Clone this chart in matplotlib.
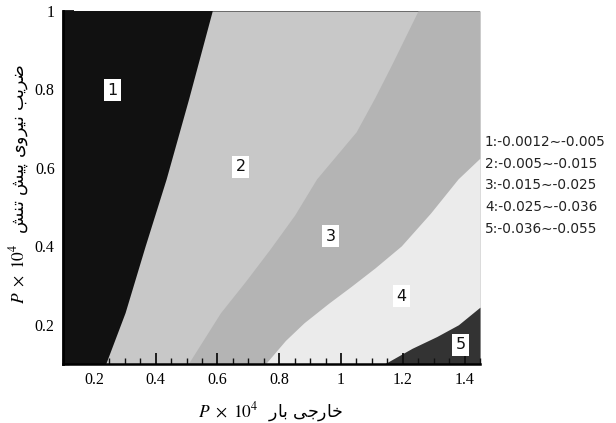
import matplotlib
matplotlib.use("Agg")
import matplotlib.pyplot as plt
from matplotlib.ticker import MultipleLocator, FuncFormatter

plt.rcParams['mathtext.fontset'] = 'stix'

# boundaries between the zones
b12_y = [0.1, 0.231, 0.401, 0.572, 0.777, 1.0]
b12_x = [0.238, 0.301, 0.366, 0.434, 0.507, 0.583]

b23_y = [0.1, 0.231, 0.31, 0.395, 0.48, 0.572, 0.692, 0.78, 0.862, 1.0]
b23_x = [0.505, 0.61, 0.69, 0.772, 0.85, 0.921, 1.049, 1.11, 1.163, 1.249]

b34_x = [0.755, 0.82, 0.88, 0.96, 1.033, 1.11, 1.195, 1.29, 1.379, 1.45]
b34_y = [0.1, 0.16, 0.205, 0.255, 0.298, 0.345, 0.401, 0.485, 0.572, 0.625]

b45_x = [1.14, 1.23, 1.31, 1.38, 1.45]
b45_y = [0.1, 0.14, 0.17, 0.2, 0.245]

zone_names = ['1', '2', '3', '4', '5']
zone_x = [0.261, 0.675, 0.967, 1.195, 1.388]
zone_y = [0.798, 0.603, 0.426, 0.273, 0.149]
zone_ranges = ['1:-0.0012\u223c-0.005', '2:-0.005\u223c-0.015', '3:-0.015\u223c-0.025',
               '4:-0.025\u223c-0.036', '5:-0.036\u223c-0.055']

colors = ['#111111', '#c8c8c8', '#b4b4b4', '#ebebeb', '#333333']

xlabel_fa = 'بار خارجی'
ylabel_fa = 'ضریب نیروی پیش تنش'

# matplotlib has no arabic shaping, so do it by hand for the letters we need
# (isolated, final, initial, medial)
forms = {
    'ا': ('\uFE8D', '\uFE8E', None, None),
    'ب': ('\uFE8F', '\uFE90', '\uFE91', '\uFE92'),
    'پ': ('\uFB56', '\uFB57', '\uFB58', '\uFB59'),
    'ت': ('\uFE95', '\uFE96', '\uFE97', '\uFE98'),
    'ج': ('\uFE9D', '\uFE9E', '\uFE9F', '\uFEA0'),
    'خ': ('\uFEA5', '\uFEA6', '\uFEA7', '\uFEA8'),
    'ر': ('\uFEAD', '\uFEAE', None, None),
    'ش': ('\uFEB5', '\uFEB6', '\uFEB7', '\uFEB8'),
    'ض': ('\uFEBD', '\uFEBE', '\uFEBF', '\uFEC0'),
    'ن': ('\uFEE5', '\uFEE6', '\uFEE7', '\uFEE8'),
    'و': ('\uFEED', '\uFEEE', None, None),
    'ی': ('\uFBFC', '\uFBFD', '\uFBFE', '\uFBFF'),
}


def shape_word(w):
    out = ''
    for i, ch in enumerate(w):
        f = forms[ch]
        prev_joins = i > 0 and forms[w[i-1]][2] is not None
        next_joins = i < len(w)-1 and f[2] is not None
        if prev_joins and next_joins:
            out += f[3]
        elif next_joins:
            out += f[2]
        elif prev_joins:
            out += f[1]
        else:
            out += f[0]
    return out[::-1]


fig = plt.figure(figsize=(6.16, 4.23), dpi=100)
ax = fig.add_axes([63/616, 1-364/423, 417/616, 353/423])
ax.set_xlim(0.1, 1.45)
ax.set_ylim(0.1, 1.0)
ax.set_facecolor(colors[0])

ax.fill_betweenx(b12_y, b12_x, 1.45, color=colors[1], lw=0)
ax.fill_betweenx(b23_y, b23_x, 1.45, color=colors[2], lw=0)
ax.fill_between(b34_x, 0.1, b34_y, color=colors[3], lw=0)
ax.fill_between(b45_x, 0.1, b45_y, color=colors[4], lw=0)

for n, x, y in zip(zone_names, zone_x, zone_y):
    ax.text(x, y, n, ha='center', va='center', fontsize=11.5,
            family='DejaVu Sans', color='#111111',
            bbox=dict(fc='white', ec='none', pad=2.5))

ax.xaxis.set_major_locator(MultipleLocator(0.2))
ax.xaxis.set_minor_locator(MultipleLocator(0.05))
ax.yaxis.set_major_locator(MultipleLocator(0.2))
ax.yaxis.set_minor_locator(MultipleLocator(0.05))
fmt = FuncFormatter(lambda v, p: '{:g}'.format(round(v, 2)))
ax.xaxis.set_major_formatter(fmt)
ax.yaxis.set_major_formatter(fmt)
ax.tick_params(which='both', direction='in', top=False, right=False,
               color='#111111')
ax.tick_params(which='major', length=8, width=1.3, labelsize=11.5, pad=6)
ax.tick_params(which='minor', length=4, width=1)
for lab in ax.get_xticklabels() + ax.get_yticklabels():
    lab.set_family('Liberation Serif')

ax.spines['top'].set_visible(False)
ax.spines['right'].set_visible(False)
ax.spines['left'].set_linewidth(2)
ax.spines['bottom'].set_linewidth(1.8)

xl = r'$P\ \times\ 10^4$  ' + ' '.join(shape_word(w) for w in xlabel_fa.split())
yl = r'$P\ \times\ 10^4$  ' + ' '.join(shape_word(w) for w in ylabel_fa.split()[::-1])
fig.text(271/616, 1-412/423, xl, ha='center', va='center', fontsize=12.5,
         family='DejaVu Sans')
fig.text(19/616, 1-184/423, yl, ha='center', va='center', fontsize=12.5,
         rotation=90, family='DejaVu Sans')

for i, s in enumerate(zone_ranges):
    fig.text(485/616, 1-(141.7+21.8*i)/423, s, ha='left', va='center',
             fontsize=9.8, family='DejaVu Sans', color='#222222')

fig.savefig('out.png', dpi=100)
